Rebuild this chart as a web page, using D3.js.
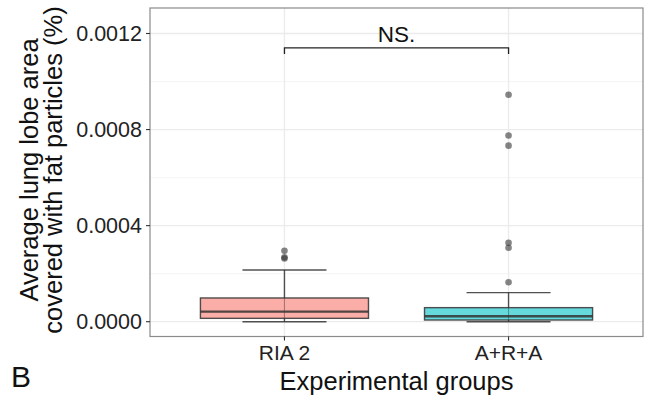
<!DOCTYPE html>
<html><head><meta charset="utf-8">
<script src="https://cdn.jsdelivr.net/npm/d3@7"></script>
<style>body{margin:0;background:#fff}svg{display:block}text{font-family:"Liberation Sans",Arial,sans-serif}</style>
</head><body><svg id="c" width="648" height="395"></svg>
<script>
const categories = ["RIA 2", "A+R+A"];
const whiskerLow = [0.0, 0.0];
const q1 = [0.000014, 0.000007];
const median = [0.000042, 0.0000225];
const q3 = [0.0000988, 0.0000585];
const whiskerHigh = [0.000215, 0.000121];
const outliers = [
  [0.000295, 0.000268, 0.000263],
  [0.000945, 0.000775, 0.000733, 0.000329, 0.000308, 0.000164]
];
const fills = ["#F8766D", "#00BFC4"];
const yTicks = [0, 0.0004, 0.0008, 0.0012];
const yMinor = [0.0002, 0.0006, 0.0010];
const bracketY = 0.00114, bracketTick = 0.000025;

const svg = d3.select("#c");
const L = 150, R = 643, T = 8, B = 336.5;
const y = d3.scaleLinear().domain([0, 0.0012]).range([321.7, 33.5]);
const x = d3.scalePoint().domain(categories).range([L + 0.6*(R-L)/2.2, R - 0.6*(R-L)/2.2]);
const unit = (R-L)/2.2;
const bw = unit*0.75;

// grid
svg.append("g").selectAll("line").data(yMinor).join("line")
  .attr("x1", L).attr("x2", R).attr("y1", d=>y(d)).attr("y2", d=>y(d))
  .attr("stroke", "#F2F2F2").attr("stroke-width", 0.8);
svg.append("g").selectAll("line").data(yTicks).join("line")
  .attr("x1", L).attr("x2", R).attr("y1", d=>y(d)).attr("y2", d=>y(d))
  .attr("stroke", "#EBEBEB").attr("stroke-width", 1.3);
svg.append("g").selectAll("line").data(categories).join("line")
  .attr("x1", d=>x(d)).attr("x2", d=>x(d)).attr("y1", T).attr("y2", B)
  .attr("stroke", "#EBEBEB").attr("stroke-width", 1.3);

// boxes
const g = svg.append("g");
categories.forEach((c, i) => {
  const cx = x(c);
  const col = "rgba(51,51,51,0.85)";
  g.append("line").attr("x1", cx).attr("x2", cx).attr("y1", y(q3[i])).attr("y2", y(whiskerHigh[i])).attr("stroke", col).attr("stroke-width", 1.4);
  g.append("line").attr("x1", cx).attr("x2", cx).attr("y1", y(q1[i])).attr("y2", y(whiskerLow[i])).attr("stroke", col).attr("stroke-width", 1.4);
  g.append("line").attr("x1", cx - bw/4).attr("x2", cx + bw/4).attr("y1", y(whiskerHigh[i])).attr("y2", y(whiskerHigh[i])).attr("stroke", col).attr("stroke-width", 1.4);
  g.append("line").attr("x1", cx - bw/4).attr("x2", cx + bw/4).attr("y1", y(whiskerLow[i])).attr("y2", y(whiskerLow[i])).attr("stroke", col).attr("stroke-width", 1.4);
  g.append("rect").attr("x", cx - bw/2).attr("width", bw).attr("y", y(q3[i])).attr("height", y(q1[i]) - y(q3[i]))
    .attr("fill", fills[i]).attr("fill-opacity", 0.6).attr("stroke", col).attr("stroke-width", 1.4);
  g.append("line").attr("x1", cx - bw/2).attr("x2", cx + bw/2).attr("y1", y(median[i])).attr("y2", y(median[i])).attr("stroke", col).attr("stroke-width", 2.4);
  g.append("line").attr("x1", cx).attr("x2", cx).attr("y1", y(q3[i])).attr("y2", y(q1[i])).attr("stroke", col).attr("stroke-width", 1.0).attr("stroke-opacity", 0.5);
  g.selectAll(null).data(outliers[i]).join("circle")
    .attr("cx", cx).attr("cy", d=>y(d)).attr("r", 3.3).attr("fill", "#333").attr("fill-opacity", 0.6);
});

// bracket
const x1 = x(categories[0]), x2 = x(categories[1]);
svg.append("path")
  .attr("d", `M${x1},${y(bracketY - bracketTick)}V${y(bracketY)}H${x2}V${y(bracketY - bracketTick)}`)
  .attr("fill", "none").attr("stroke", "#222").attr("stroke-width", 1.3);
svg.append("text").attr("x", (x1+x2)/2).attr("y", y(bracketY) - 6.3).attr("text-anchor", "middle")
  .attr("font-size", 22.5).attr("fill", "#111").text("NS.");

// panel border
svg.append("rect").attr("x", L).attr("y", T).attr("width", R-L).attr("height", B-T)
  .attr("fill", "none").attr("stroke", "#8a8a8a").attr("stroke-width", 1.2);

// y axis
const ya = svg.append("g");
yTicks.forEach(t => {
  ya.append("line").attr("x1", L-4).attr("x2", L).attr("y1", y(t)).attr("y2", y(t)).attr("stroke", "#333").attr("stroke-width", 1.1);
  ya.append("text").attr("x", L-8).attr("y", y(t)).attr("dy", "0.36em").attr("text-anchor", "end")
    .attr("font-size", 21.5).attr("fill", "#222").text(d3.format(".4f")(t));
});
// x axis
categories.forEach(c => {
  svg.append("line").attr("x1", x(c)).attr("x2", x(c)).attr("y1", B).attr("y2", B+4).attr("stroke", "#333").attr("stroke-width", 1.1);
  svg.append("text").attr("x", x(c)).attr("y", 360).attr("text-anchor", "middle").attr("font-size", 21).attr("fill", "#222").text(c);
});

// titles
svg.append("text").attr("x", (L+R)/2).attr("y", 390).attr("text-anchor", "middle").attr("font-size", 25.5).attr("fill", "#111").text("Experimental groups");
const yt = svg.append("text").attr("transform", `translate(0,170) rotate(-90)`).attr("text-anchor", "middle").attr("font-size", 25.5).attr("fill", "#111");
yt.append("tspan").attr("x", 0).attr("y", 38).text("Average lung lobe area");
yt.append("tspan").attr("x", 0).attr("y", 62).text("covered with fat particles (%)");
svg.append("text").attr("x", 11).attr("y", 387).attr("font-size", 30).attr("fill", "#111").text("B");
</script></body></html>
